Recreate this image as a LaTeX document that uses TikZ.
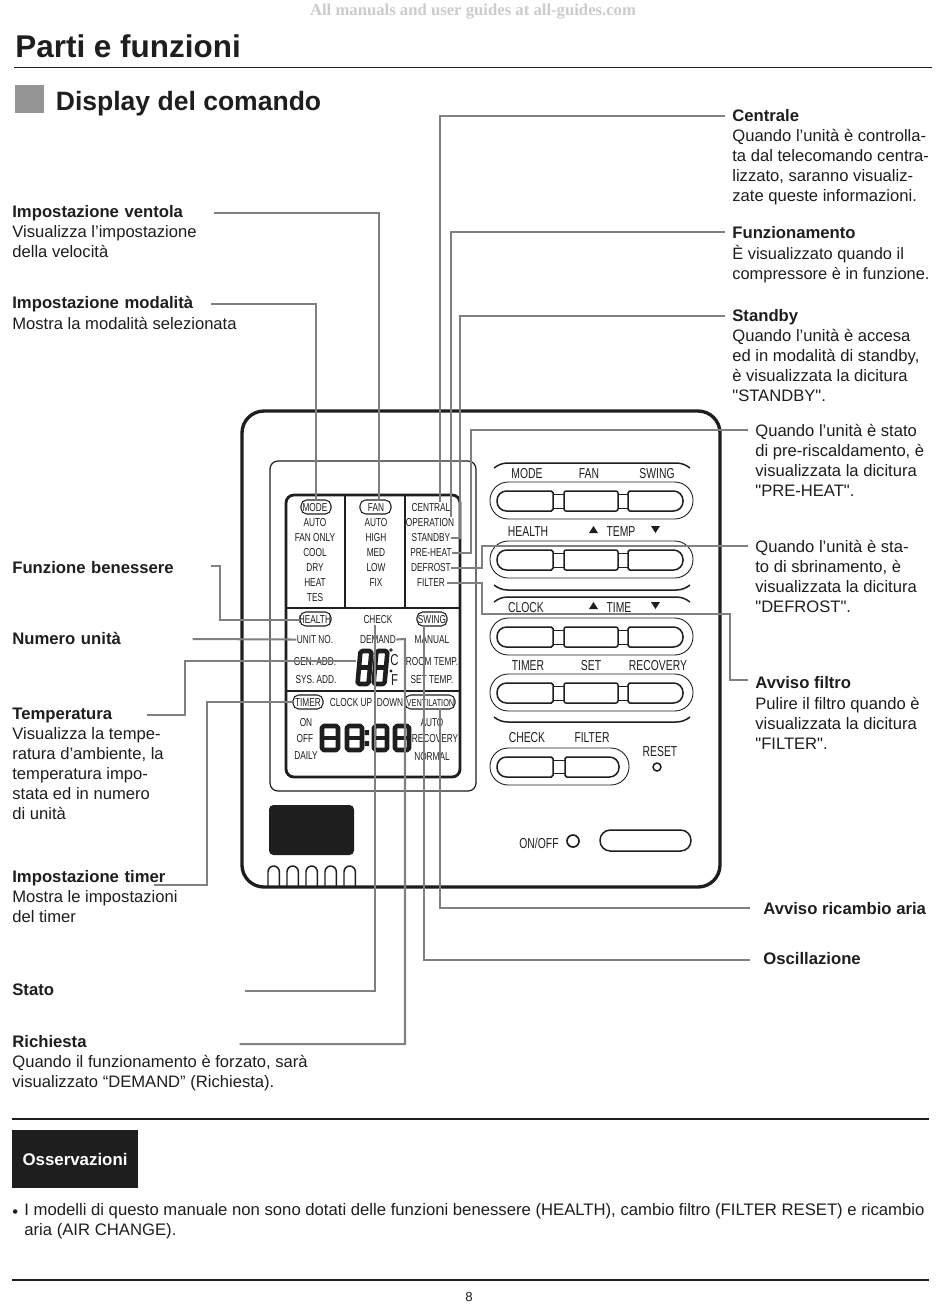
\documentclass[tikz,border=0pt]{standalone}
\usepackage{fontspec}
\setmainfont{Liberation Sans}
\newfontfamily\narrowf[FakeStretch=0.72]{Liberation Sans}
\newfontfamily\wmf{Liberation Serif}
\newfontfamily\plainq{Liberation Sans}
\newcommand{\sq}{{\plainq\symbol{34}}}
\usetikzlibrary{calc}
\definecolor{conncol}{HTML}{808080}
\definecolor{inkc}{HTML}{1E1E1E}
\tikzset{
  conn/.style={draw=conncol,line width=1.15pt},
  inkline/.style={draw=inkc,line width=0.85pt},
  thinline/.style={draw=inkc,line width=0.5pt},
  bodytext/.style={inner sep=0pt,anchor=north west,align=left,text=inkc,
    font=\fontsize{9.45}{11.38}\selectfont,execute at begin node=\strut},
  headr/.style={inner sep=0pt,anchor=west,text=inkc,
    font=\fontsize{9.5}{11.38}\selectfont\bfseries,execute at begin node=\strut},
  headl/.style={headr,text width=#1*0.02cm,align=left},
  lcd/.style={inner sep=0pt,yshift=-0.3pt,text=inkc,font=\fontsize{6.55}{8}\selectfont\narrowf},
  key/.style={inner sep=0pt,yshift=-0.5pt,text=inkc,font=\fontsize{8.2}{10}\selectfont\narrowf},
  pillb/.style={thinline,draw=inkc,line width=0.6pt,rounded corners=3.2pt},
  seg/.style={draw=inkc,line width=#1,rounded corners=1pt,line join=round},
}
\newcommand{\btnrow}[1]{%
  \draw[thinline,rounded corners=10.4pt] (490,#1) rectangle (693,#1+37);
  \draw[inkline,rounded corners=5.4pt] (525,#1+9) -- (497,#1+9) -- (497,#1+29) -- (525,#1+29)
     [rounded corners=1pt] -- (553,#1+29) -- (553,#1+9) -- cycle;
  \draw[inkline,rounded corners=1.2pt] (564,#1+9) rectangle (618,#1+29);
  \draw[inkline,rounded corners=5.4pt] (655,#1+29) -- (683,#1+29) -- (683,#1+9) -- (655,#1+9)
     [rounded corners=1pt] -- (628,#1+9) -- (628,#1+29) -- cycle;
  \draw[thinline] (553,#1+12) -- (564,#1+12) (553,#1+26) -- (564,#1+26)
     (618,#1+12) -- (628,#1+12) (618,#1+26) -- (628,#1+26);
}
% seven segment style digit: x, y, width, height, slant, stroke
\newcommand{\digitE}[6]{%
  \draw[seg=#6] ($(#1,#2)+(#5,0)$) -- ($(#1+#3,#2)+(#5,0)$) -- (#1+#3,#2+#4/2) -- ($(#1+#3,#2+#4)+(-#5,0)$)
     -- ($(#1,#2+#4)+(-#5,0)$) -- (#1,#2+#4/2) -- cycle;
  \draw[draw=inkc,line width=#6] (#1,#2+#4/2) -- (#1+#3,#2+#4/2);
}
\begin{document}
\begin{tikzpicture}[x=0.02cm,y=-0.02cm]
\useasboundingbox (0,0) rectangle (950,1306);
\fill[white] (0,0) rectangle (950,1306);

% page furniture
\node[inner sep=0pt,text=black!20,font=\fontsize{9.5}{10}\selectfont\wmf\bfseries] (wm) at (473,12) {All manuals and user guides at all-guides.com};
\node[inner sep=0pt,anchor=base west,text=inkc,font=\fontsize{17.9}{20}\selectfont\bfseries] (title) at (15,57) {Parti e funzioni};
\draw[draw=inkc,line width=0.45pt] (14,67) -- (932,67);
\fill[black!42] (15,85) rectangle (44,113);
\node[inner sep=0pt,anchor=base west,text=inkc,font=\fontsize{15.1}{18}\selectfont\bfseries] (subtitle) at (55.5,110) {Display del comando};

% device body
\draw[draw=inkc,line width=1.9pt,rounded corners=12.5pt] (242,411) rectangle (720,887);
\draw[draw=inkc,line width=0.7pt,rounded corners=4.5pt] (270,461) rectangle (476,791);
\draw[draw=inkc,line width=1.6pt,rounded corners=4.5pt] (286,495) rectangle (460,777);
\draw[inkline] (345,495) -- (345,608) (405,495) -- (405,608) (287,608) -- (459,608) (287,691) -- (459,691);

% pills
\draw[pillb] (301,500) rectangle (331,514);
\draw[pillb] (360,500) rectangle (391,514);
\draw[pillb] (300,612) rectangle (331,626);
\draw[pillb] (417,612) rectangle (447,626);
\draw[pillb] (293,695) rectangle (323,709);
\draw[pillb] (405,695) rectangle (455,709);

% LCD texts
\node[lcd] (pMode) at (315,507) {MODE};
\node[lcd] (a1) at (315,522) {AUTO};
\node[lcd] (a2) at (315,537) {FAN ONLY};
\node[lcd] (a3) at (315,552) {COOL};
\node[lcd] (a4) at (315,567) {DRY};
\node[lcd] (a5) at (315,582) {HEAT};
\node[lcd] (a6) at (315,597) {TES};
\node[lcd] (pFan) at (376,507) {FAN};
\node[lcd] (b1) at (376,522) {AUTO};
\node[lcd] (b2) at (376,537) {HIGH};
\node[lcd] (b3) at (376,552) {MED};
\node[lcd] (b4) at (376,567) {LOW};
\node[lcd] (b5) at (376,582) {FIX};
\node[lcd] (pCentral) at (431,507) {CENTRAL};
\node[lcd] (pOper) at (430,522) {OPERATION};
\node[lcd] (pStandby) at (431,537) {STANDBY};
\node[lcd] (pPreheat) at (431,552) {PRE-HEAT};
\node[lcd] (pDefrost) at (431,567) {DEFROST};
\node[lcd] (pFilter) at (431,582) {FILTER};
\node[lcd] (pHealth) at (315,619) {HEALTH};
\node[lcd] (pCheck) at (378,619) {CHECK};
\node[lcd] (pSwing) at (432,619) {SWING};
\node[lcd] (pUnit) at (315,639) {UNIT NO.};
\node[lcd] (pDemand) at (378,639) {DEMAND};
\node[lcd] (c1) at (432,639) {MANUAL};
\node[lcd] (c2) at (315,661) {GEN. ADD.};
\node[lcd] (c3) at (432,661) {ROOM TEMP.};
\node[lcd] (c4) at (316,679) {SYS. ADD.};
\node[lcd] (c5) at (432,679) {SET TEMP.};
\node[lcd] (pTimer) at (308,702) {TIMER};
\node[lcd] (d1) at (351,702) {CLOCK UP};
\node[lcd] (d2) at (390,702) {DOWN};
\node[lcd,font=\fontsize{5.8}{8}\selectfont\narrowf] (pVent) at (430.5,702) {VENTILATION};
\node[lcd] (e1) at (306,722) {ON};
\node[lcd] (e2) at (305,738) {OFF};
\node[lcd] (e3) at (306,755) {DAILY};
\node[lcd] (f1) at (432,722) {AUTO};
\node[lcd] (f2) at (435,738) {RECOVERY};
\node[lcd] (f3) at (432,756) {NORMAL};

% digits
\digitE{322}{726}{16}{24}{0}{2.6pt}
\digitE{347}{726}{15}{24}{0}{2.6pt}
\digitE{374}{726}{13}{24}{0}{2.6pt}
\digitE{395}{726}{14}{24}{0}{2.6pt}
\fill[inkc] (364.5,730) rectangle (369,735) (364.5,741) rectangle (369,746);
\digitE{359}{651}{11}{33}{1.5}{2.6pt}
\digitE{375}{651}{11}{33}{1.5}{2.6pt}
\draw[inkc,line width=0.5pt] (391,650) circle (1.3);
\fill[inkc] (391,671) circle (1.6);
\node[lcd,font=\fontsize{9}{10}\selectfont\narrowf] (degC) at (394.5,660) {C};
\node[lcd,font=\fontsize{9}{10}\selectfont\narrowf] (degF) at (394.5,680) {F};

% button rows
\btnrow{482}\btnrow{541}\btnrow{618}\btnrow{674}
\draw[thinline,rounded corners=10.4pt] (490,748) rectangle (629,785);
\draw[inkline,rounded corners=5.4pt] (525,757) -- (497,757) -- (497,777) -- (525,777)
   [rounded corners=1pt] -- (553,777) -- (553,757) -- cycle;
\draw[inkline,rounded corners=5.4pt] (590,777) -- (619,777) -- (619,757) -- (590,757)
   [rounded corners=1pt] -- (565,757) -- (565,777) -- cycle;
\draw[thinline] (553,760) -- (565,760) (553,773) -- (565,773);
% arcs
\draw[inkline] (494,468) .. controls (498,465) and (502,463) .. (508,463) -- (676,463) .. controls (682,463) and (686,465) .. (690,468);
\draw[inkline] (494,585) .. controls (498,588) and (502,590) .. (508,590) -- (676,590) .. controls (682,590) and (686,588) .. (690,585);
\draw[inkline] (494,602) .. controls (498,599) and (502,597) .. (508,597) -- (676,597) .. controls (682,597) and (686,599) .. (690,602);
\draw[inkline] (494,717) .. controls (498,720) and (502,722) .. (508,722) -- (676,722) .. controls (682,722) and (686,720) .. (690,717);

% key labels
\node[key] (k1) at (527,473) {MODE};
\node[key] (k2) at (589,473) {FAN};
\node[key] (k3) at (657,473) {SWING};
\node[key] (k4) at (528,531) {HEALTH};
\node[key] (k5) at (621,531) {TEMP};
\node[key] (k6) at (526,607) {CLOCK};
\node[key] (k7) at (619,607) {TIME};
\node[key] (k8) at (528,665) {TIMER};
\node[key] (k9) at (591,665) {SET};
\node[key] (k10) at (658,665) {RECOVERY};
\node[key] (k11) at (527,737) {CHECK};
\node[key] (k12) at (592,737) {FILTER};
\node[key] (k13) at (660,751) {RESET};
\node[key] (k14) at (539,842) {ON/OFF};
\fill[inkc] (589,533) -- (593.5,526) -- (598,533) -- cycle;
\fill[inkc] (651,526) -- (655.5,533) -- (660,526) -- cycle;
\fill[inkc] (589,609) -- (593.5,602) -- (598,609) -- cycle;
\fill[inkc] (651,602) -- (655.5,609) -- (660,602) -- cycle;
\draw[inkline] (657,767) circle (4);
\draw[draw=inkc,line width=0.95pt] (573,841) circle (6);
\draw[inkline,rounded corners=5.9pt] (600,830) rectangle (691,851);
\fill[inkc,rounded corners=2.5pt] (269,805) rectangle (354,855);
\foreach \q in {268,287,306,325,344}{
  \draw[inkline] (\q,886) -- (\q,872) arc (180:0:5.7 and -6) -- (\q+11.4,886);
}

% left labels
\node[headl=201] (lFan) at (12,213) {Impostazione ventola};
\node[bodytext] (lFanB) at (12,225) {Visualizza l’impostazione\\della velocità};
\node[headl=198] (lMode) at (12,304) {Impostazione modalità};
\node[bodytext] (lModeB) at (12,315) {Mostra la modalità selezionata};
\node[headl=198] (lHealth) at (12,569) {Funzione benessere};
\node[headl=180] (lUnit) at (12,640) {Numero unità};
\node[headl=134] (lTemp) at (12,715) {Temperatura};
\node[bodytext] (lTempB) at (12,727) {Visualizza la tempe-\\ratura d’ambiente, la\\temperatura impo-\\stata ed in numero\\di unità};
\node[headl=141] (lTimer) at (12,878) {\mbox{Impostazione timer}};
\node[bodytext] (lTimerB) at (12,890) {Mostra le impostazioni\\del timer};
\node[headl=232] (lStato) at (12,991) {Stato};
\node[headl=227] (lDem) at (12,1043) {Richiesta};
\node[bodytext] (lDemB) at (12,1055) {Quando il funzionamento è forzato, sarà\\visualizzato “DEMAND” (Richiesta).};

% right labels
\node[headr] (rCen) at (732,117) {Centrale};
\node[bodytext] (rCenB) at (732,129) {Quando l’unità è controlla-\\ta dal telecomando centra-\\lizzato, saranno visualiz-\\zate queste informazioni.};
\node[headr] (rOp) at (732,234) {Funzionamento};
\node[bodytext,font=\fontsize{9.35}{11.38}\selectfont] (rOpB) at (732,245) {È visualizzato quando il\\compressore è in funzione.};
\node[headr] (rSt) at (732,317) {Standby};
\node[bodytext] (rStB) at (732,329) {Quando l’unità è accesa\\ed in modalità di standby,\\è visualizzata la dicitura\\\sq STANDBY\sq.};
\node[bodytext,anchor=west] (rPre) at (755,432) {Quando l’unità è stato};
\node[bodytext] (rPreB) at (755,444) {di pre-riscaldamento, è\\visualizzata la dicitura\\\sq PRE-HEAT\sq.};
\node[bodytext,anchor=west] (rDef) at (755,548) {Quando l’unità è sta-};
\node[bodytext] (rDefB) at (755,560) {to di sbrinamento, è\\visualizzata la dicitura\\\sq DEFROST\sq.};
\node[headr] (rFil) at (755,684) {Avviso filtro};
\node[bodytext] (rFilB) at (755,697) {Pulire il filtro quando è\\visualizzata la dicitura\\\sq FILTER\sq.};
\node[headr] (rVent) at (763,910) {Avviso ricambio aria};
\node[headr] (rOsc) at (763,960) {Oscillazione};

% connectors
\coordinate (tMode) at (316,500);
\coordinate (tFan) at (379,500);
\coordinate (tCentral) at (440,502);
\coordinate (tOper) at (451,517);
\coordinate (tCheck) at (375,625);
\coordinate (tDemand) at (405,639);
\coordinate (tSwing) at (424,626);
\coordinate (tVent) at (440,708);
\draw[conn] (lFan.east) -| (tFan);
\draw[conn] (lMode.east) -| (tMode);
\draw[conn] ([shift={(-7,-1)}]rCen.west) -| (tCentral);
\draw[conn] ([shift={(-7,-2)}]rOp.west) -| (tOper);
\draw[conn] ([shift={(-7,-1)}]rSt.west) -| (460,537) |- (pStandby.east);
\draw[conn] ([shift={(-7,-2)}]rPre.west) -| (471,552) |- (pPreheat.east);
\draw[conn] ([shift={(-7,-2)}]rDef.west) -| (482,567) |- (pDefrost.east);
\draw[conn] ([shift={(-7,-4)}]rFil.west) -| (730,614) -| (482,582) |- ([xshift=1pt]pFilter.east);
\draw[conn] ([shift={(0,-3)}]lHealth.east) -- (220,566) |- (pHealth.west -| 300,619);
\draw[conn] ([shift={(0,-1)}]lUnit.east) -- (pUnit.west);
\draw[conn] (lTemp.east) -| (185,661) -- (356,661);
\draw[conn] ([shift={(0,7)}]lTimer.east) -| (207,702) -- (293,702);
\draw[conn] (lStato.east) -| (tCheck);
\draw[conn] ([shift={(0,1)}]lDem.east) -| (tDemand) -- (pDemand.east);
\draw[conn] ([shift={(-13,0)}]rOsc.west) -| (tSwing);
\draw[conn] ([shift={(-13,-2)}]rVent.west) -| (tVent);

% notes
\draw[draw=inkc,line width=1.15pt] (12,1119) -- (929,1119);
\node[fill=inkc,text=white,minimum width=126*0.02cm,minimum height=58*0.02cm,inner sep=0pt,font=\fontsize{9.6}{11}\selectfont\bfseries] (obs) at (75,1159) {Osservazioni};
\node[bodytext] (bullet) at (12,1203) {•};
\node[bodytext,font=\fontsize{9.5}{11.38}\selectfont] (note) at (24,1203) {I modelli di questo manuale non sono dotati delle funzioni benessere (HEALTH), cambio filtro (FILTER RESET) e ricambio\\aria (AIR CHANGE).};
\draw[draw=inkc,line width=0.85pt] (12,1280) -- (929,1280);
\node[inner sep=0pt,text=inkc,font=\fontsize{7.5}{9}\selectfont] (pg) at (469,1297) {8};
\end{tikzpicture}
\end{document}
